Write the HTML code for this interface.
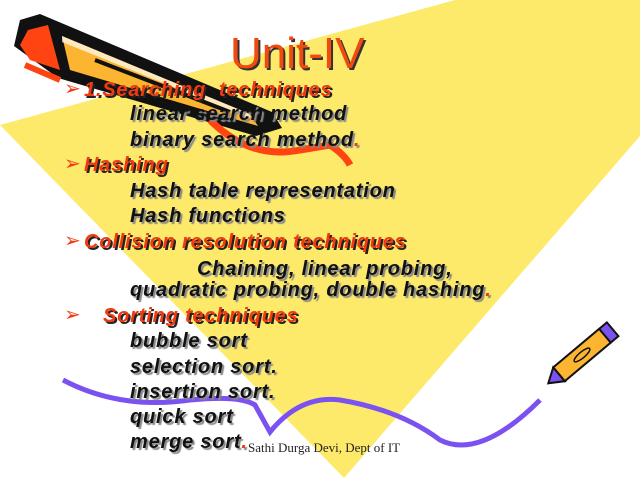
<!DOCTYPE html>
<html><head><style>
body{margin:0;width:640px;height:480px;background:#fff;position:relative;overflow:hidden;font-family:"Liberation Sans",sans-serif}
svg{position:absolute;left:0;top:0}
.t{position:absolute;font-style:italic;font-weight:bold;font-size:20px;white-space:nowrap;line-height:1;letter-spacing:0.8px;text-shadow:2px 2px 1px #888}
.r{color:#f03a10;text-shadow:2px 2px 0 #222}
.k{color:#111}
.b{position:absolute;color:#f03a10;font-size:20px;line-height:1}
</style></head><body>
<svg width="640" height="480">
<polygon points="0,125 455,0 640,0 640,136 344,478" fill="#fde96a"/>
<polygon points="20,20 40,14 272,112 282,128 256,136 58,78 14,46" fill="#111"/>
<polygon points="28,30 48,25 60,70 30,60 20,45" fill="#f41"/>
<polygon points="62,36 250,114 258,126 70,70" fill="#fbb531"/>
<polygon points="62,36 250,114 250,118 62,42" fill="#fff" opacity="0.7"/>
<path d="M95,60 L230,112" stroke="#111" stroke-width="4"/>
<path d="M25,65 L60,80" stroke="#f41" stroke-width="6"/>
<path d="M210,120 Q250,160 300,150 L330,145 Q345,155 350,165" stroke="#f41" stroke-width="7" fill="none"/>
<path d="M63,380 Q120,410 190,400 Q240,395 255,405 L270,432 Q300,395 340,400 Q400,410 440,440 Q480,460 540,400" stroke="#7b52f0" stroke-width="5" fill="none"/>
<g transform="translate(582,355) rotate(-40)">
<rect x="-30" y="-9" width="60" height="18" fill="#fbb531" stroke="#111" stroke-width="2"/>
<rect x="30" y="-9" width="10" height="18" fill="#7b52f0" stroke="#111" stroke-width="2"/>
<polygon points="-30,-9 -44,0 -30,9" fill="#7b52f0" stroke="#111" stroke-width="2"/>
<ellipse cx="0" cy="0" rx="10" ry="3" fill="none" stroke="#111" stroke-width="1.5"/>
</g>
</svg>
<div class="t" style="left:230px;top:32px;font-size:44px;letter-spacing:0;font-style:normal;font-weight:normal;color:#f04a10;text-shadow:2px 2px 0 #333">Unit-IV</div>
<div class="b" style="left:64px;top:79px">➢</div>
<div class="t r" style="left:84px;top:80px">1.Searching&nbsp; techniques</div>
<div class="t k" style="left:130px;top:104px">linear search method</div>
<div class="t k" style="left:130px;top:130px">binary search method<span style="color:#f03a10">.</span></div>
<div class="b" style="left:64px;top:154px">➢</div>
<div class="t r" style="left:84px;top:155px">Hashing</div>
<div class="t k" style="left:130px;top:181px">Hash table representation</div>
<div class="t k" style="left:130px;top:206px">Hash functions</div>
<div class="b" style="left:64px;top:231px">➢</div>
<div class="t r" style="left:84px;top:232px">Collision resolution techniques</div>
<div class="t k" style="left:197px;top:259px">Chaining, linear probing,</div>
<div class="t k" style="left:130px;top:280px">quadratic probing, double hashing<span style="color:#f03a10">.</span></div>
<div class="b" style="left:64px;top:305px">➢</div>
<div class="t r" style="left:103px;top:306px">Sorting techniques</div>
<div class="t k" style="left:130px;top:331px">bubble sort</div>
<div class="t k" style="left:130px;top:357px">selection sort.</div>
<div class="t k" style="left:130px;top:382px">insertion sort.</div>
<div class="t k" style="left:130px;top:407px">quick sort</div>
<div class="t k" style="left:130px;top:432px">merge sort<span style="color:#f03a10">.</span></div>
<div style="position:absolute;left:248px;top:440px;font-family:'Liberation Serif',serif;font-size:13px;color:#222">Sathi Durga Devi, Dept of IT</div>
</body></html>
